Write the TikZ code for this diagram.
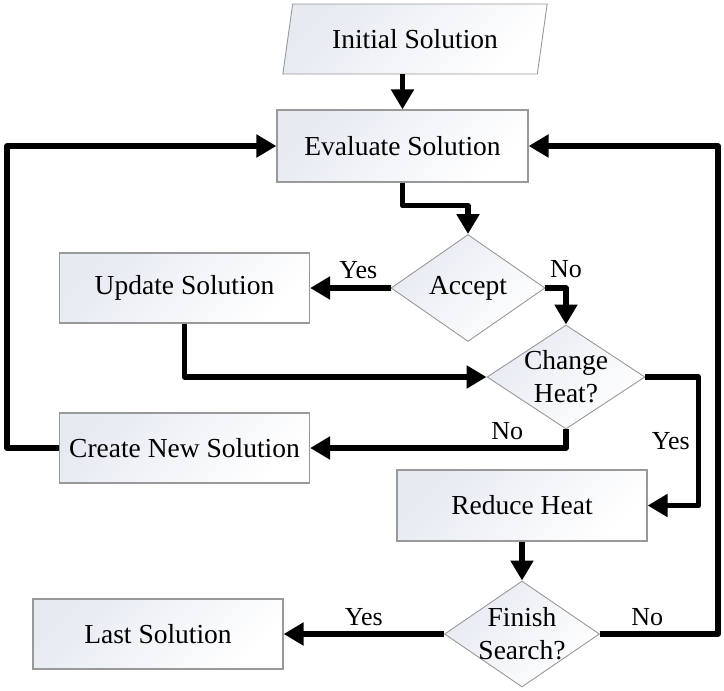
\documentclass[tikz,border=0pt]{standalone}
\usepackage{fontspec}
\setmainfont{Liberation Serif}
\usepackage{tikz}
\usetikzlibrary{arrows.meta,shapes.geometric,positioning}

\begin{document}
\begin{tikzpicture}[
    x=1pt,y=-1pt,
    box/.style={draw=frame,line width=1.2pt,top color=shadefill,bottom color=white,
      shading angle=45,minimum width=250pt,minimum height=70pt,inner sep=0pt,
      font=\fontsize{27.5}{33}\selectfont},
    decision/.style={diamond,draw=frame,line width=0.9pt,top color=shadefill,
      bottom color=white,shading angle=45,inner sep=0pt},
    dlabel/.style={align=center,font=\fontsize{27.5}{33}\selectfont,inner sep=0pt},
    flow/.style={line width=5.5pt,line join=round,-{Triangle[length=20pt,width=22pt]}},
    lbl/.style={font=\fontsize{26}{30}\selectfont,inner sep=2pt}
  ]
  \colorlet{frame}{black!40}
  \definecolor{shadefill}{RGB}{230,234,241}
  \useasboundingbox (0,0) rectangle (724,691);
  % nodes
  \node[trapezium,trapezium left angle=71,trapezium right angle=109,trapezium stretches=true,
    draw=frame,line width=0.9pt,top color=shadefill,bottom color=white,shading angle=45,
    minimum width=265pt,minimum height=70pt,inner sep=0pt,
    font=\fontsize{27.5}{33}\selectfont] (init) at (415,39) {Initial Solution};
  \node[box,minimum width=251pt,minimum height=72pt] (eval) at (402.5,146) {Evaluate Solution};
  \node[decision,minimum width=154pt,minimum height=107pt,
    label={[dlabel]center:Accept}] (acc) at (468,288) {};
  \node[box] (upd) at (184.5,288) {Update Solution};
  \node[decision,minimum width=158pt,minimum height=104pt,
    label={[dlabel]center:Change\\Heat?}] (chg) at (566,377) {};
  \node[box] (new) at (184.5,448) {Create New Solution};
  \node[box,minimum height=71pt] (red) at (522,505.5) {Reduce Heat};
  \node[decision,minimum width=155pt,minimum height=106pt,
    label={[dlabel]center:Finish\\Search?}] (fin) at (522,634) {};
  \node[box] (last) at (158,634) {Last Solution};
  % connectors
  \draw[flow] (eval.north |- init.south) -- (eval.north);
  \draw[flow] (eval.south) -- ++(0,23) -| (acc.north);
  \draw[flow] (acc.west) -- node[lbl,above=4pt,pos=0.4] (yes1) {Yes} (upd.east);
  \draw[flow] (acc.east) -| node[lbl,above=6pt,pos=0.5] (no1) {No} (chg.north);
  \draw[flow] (upd.south) |- (chg.west);
  \draw[flow] (chg.south) |- node[lbl,above=4pt,pos=0.615] (no2) {No} (new.east);
  \draw[flow] (chg.east) -- ++(53,0) |- node[lbl,left=4pt,pos=0.25] (yes2) {Yes} (red.east);
  \draw[flow] (red.south) -- (fin.north);
  \draw[flow] (fin.east) -- node[lbl,above=4pt,pos=0.4] (no3) {No} ++(118,0) |- (eval.east);
  \draw[flow] (fin.west) -- node[lbl,above=4pt,pos=0.5] (yes3) {Yes} (last.east);
  \draw[flow] (new.west) -- ++(-52,0) |- (eval.west);
\end{tikzpicture}
\end{document}
